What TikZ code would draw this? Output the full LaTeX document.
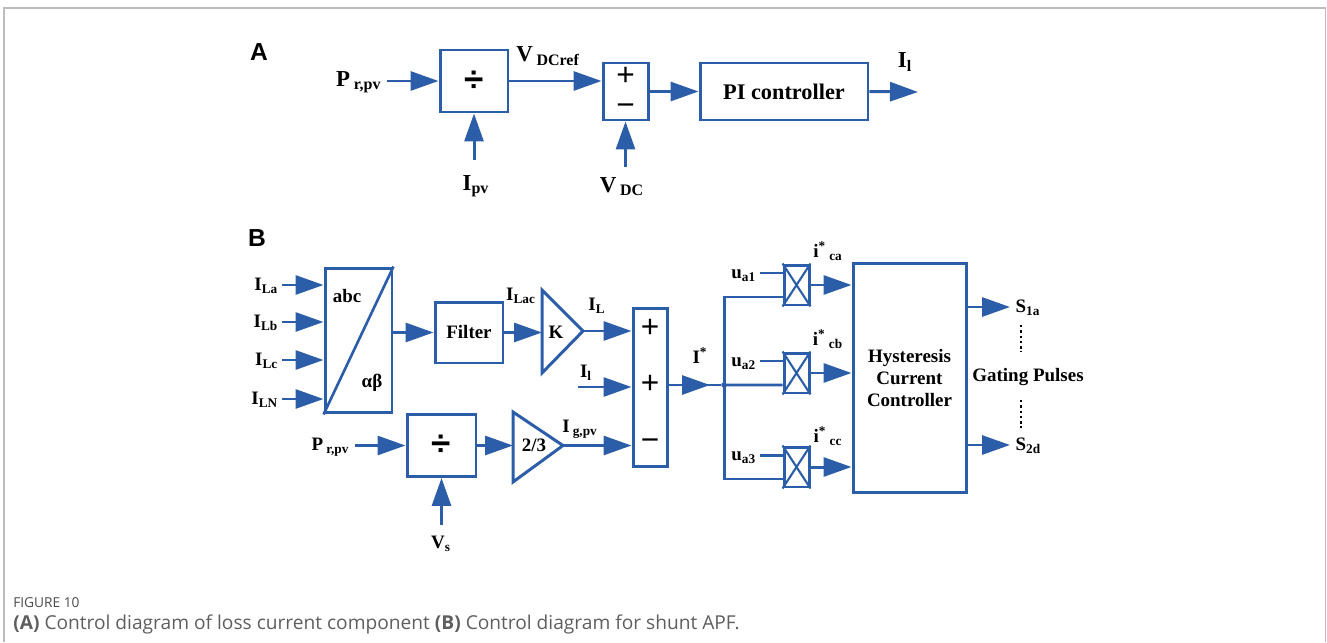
\documentclass[tikz,border=0pt]{standalone}
\usepackage{fontspec}
\setmainfont{Liberation Serif}
\newfontfamily\signfont{Liberation Sans}
\newfontfamily\capfont{Open Sans}
\usetikzlibrary{arrows.meta, positioning}
\definecolor{cLine}{HTML}{2C5DA9}
\definecolor{cFrame}{HTML}{BDBDBD}
\definecolor{cCap}{HTML}{5E5E5E}
\newcommand{\sig}[2]{#1\textsubscript{#2}}

\begin{document}
\begin{tikzpicture}[
    x=0.02cm, y=-0.02cm, font=\bfseries\fontsize{10.8}{12.8}\selectfont,
    ln/.style={draw=cLine, line width=1.7pt},
    arr/.style={ln, -{Triangle[length=0.56cm, width=0.38cm]}},
    blk/.style={draw=cLine, line width=1.7pt, inner sep=0pt},
    xln/.style={draw=cLine, line width=1.2pt},
    labA/.style={inner sep=1pt, text height=1.6ex, text depth=0.3ex, font=\bfseries\fontsize{13}{15}\selectfont},
    labB/.style={inner sep=1pt, text height=1.6ex, text depth=0.3ex},
    sgn/.style={font=\signfont\mdseries\fontsize{18}{18}\selectfont, inner sep=0pt, text height=0.6em, text depth=0pt},
    dvd/.style={font=\signfont\bfseries\fontsize{20}{20}\selectfont},
    hdr/.style={font=\signfont\bfseries\fontsize{14}{16}\selectfont},
    captxt/.style={font=\capfont\mdseries\fontsize{10.9}{12}\selectfont, text=cCap, anchor=west, inner sep=0pt},
]
\useasboundingbox (0,0) rectangle (1327,642);

% ===================== Marco =====================
\draw[cFrame, line width=0.8pt] (4,642) -- (4,8) -- (1325.5,8) -- (1325.5,642);

% ===================== (A) Componente de pérdidas =====================
\node[hdr] (hA) at (259,52) {A};

\node[blk, dvd, minimum width=1.36cm, minimum height=1.24cm] (divA) at (474,81) {÷};
\node[blk, minimum width=0.9cm, minimum height=1.14cm] (sumA) at (625.5,91.5) {};
\node[sgn] (sumAp) at (625.5,80) {+};
\node[sgn] (sumAm) at (625.5,110) {−};
\node[blk, minimum width=3.36cm, minimum height=1.14cm, font=\bfseries\fontsize{12.7}{14}\selectfont] (pi) at (784,91.5) {PI controller};

\coordinate (prA) at (387,81);
\coordinate (ipv) at (474,160);
\coordinate (vdc) at (625.5,167);
\coordinate (ilA) at (918,92);

\node[labA, left=2pt of prA] (prAl) {\sig{P\,}{r,pv}};
\node[labA] (ipvl) at (476,185) {\sig{I}{pv}};
\node[labA] (vrefl) at (548,56) {\sig{V\,}{DCref}};
\node[labA] (vdcl) at (622,187) {\sig{V\,}{DC}};
\node[labA] (ilAl) at (905,62) {\sig{I}{l}};

\draw[arr] (prA) -- (divA.west);
\draw[arr] (ipv) -- (divA.south);
\draw[arr] (divA.east) -- (divA.east -| sumA.west);
\draw[arr] (vdc) -- (sumA.south);
\draw[arr] (sumA.east) -- (pi.west);
\draw[arr] (pi.east) -- (ilA);

% ===================== (B) Filtro activo paralelo =====================
\node[hdr] (hB) at (257,238) {B};

% Transformación abc -> alfa-beta
\node[blk, minimum width=1.34cm, minimum height=2.9cm] (abc) at (358.5,340.5) {};
\draw[xln, line width=1.5pt] (abc.south west) -- (abc.north east);
\node[labB] (abcl) at (347,297) {abc};
\node[labB] (abl) at (372,382) {αβ};

\foreach \n/\yy in {La/285, Lb/322, Lc/360, LN/399} {
    \coordinate (in\n) at (282,\yy);
    \node[labB, left=1pt of in\n] (l\n) {\sig{I}{\n}};
    \draw[arr] (in\n) -- (in\n -| abc.west);
}

% Filtro y ganancia K
\node[blk, minimum width=1.36cm, minimum height=1.22cm] (filt) at (469,332.5) {Filter};
\draw[arr] (filt.west -| abc.east) -- (filt.west);

\coordinate (kIn) at (542,332.5);
\coordinate (kOut) at (583,331);
\draw[ln, line join=miter] (542,290) -- (542,373) -- (kOut) -- cycle;
\node[labB] (gK) at (556,333) {K};
\draw[arr] (filt.east) -- (kIn);
\node[labB] (ilacl) at (521,295) {\sig{I}{Lac}};

% Sumador de corrientes
\node[blk, minimum width=0.68cm, minimum height=3.18cm] (sumB) at (650,387.5) {};
\node[sgn] (sumB1) at (650,332) {+};
\node[sgn] (sumB2) at (650,388) {+};
\node[sgn] (sumB3) at (650,445) {−};

\draw[arr] (kOut) -- (kOut -| sumB.west);
\node[labB] (iLl) at (597,305) {\sig{I}{L}};

\coordinate (ilB) at (578,387);
\draw[arr] (ilB) -- (ilB -| sumB.west);
\node[labB] (ilBl) at (586,372) {\sig{I}{l}};

% Corriente inyectada por el generador FV
\node[blk, dvd, minimum width=1.38cm, minimum height=1.24cm] (divB) at (441.5,445.5) {÷};
\coordinate (prB) at (355,445.5);
\coordinate (vs) at (441.5,525);
\node[labB, left=2pt of prB] (prBl) {\sig{P\,}{r,pv}};
\node[labB] (vsl) at (441,543) {\sig{V}{s}};
\draw[arr] (prB) -- (divB.west);
\draw[arr] (vs) -- (divB.south);

\coordinate (tIn) at (513,445.5);
\coordinate (tOut) at (563,445.5);
\draw[ln, line join=miter] (513,412) -- (513,482) -- (tOut) -- cycle;
\node[labB] (g23) at (534,446) {2/3};
\draw[arr] (divB.east) -- (tIn);
\draw[arr] (tOut) -- (tOut -| sumB.west);
\node[labB] (igl) at (580,427) {\sig{I\,}{g,pv}};

% Referencia I* y reparto por fases
\node[circle, fill=cLine, inner sep=0pt, minimum size=0.11cm] (jn) at (724,385) {};
\draw[ln] (sumB.east |- jn) -- (jn);
\draw[arr] (sumB.east |- jn) -- ([xshift=-0.28cm]jn.center);
\node[labB] (istl) at (700,358) {I\textsuperscript{*}};

\node[blk, minimum width=2.26cm, minimum height=4.6cm, align=center] (hcc) at (909.5,378) {Hysteresis\\Current\\Controller};

\foreach \i/\yy in {1/285, 2/373, 3/467} {
    \node[blk, minimum width=0.5cm, minimum height=0.8cm] (m\i) at (796.5,\yy) {};
    \draw[xln] (m\i.north west) -- (m\i.south east) (m\i.south west) -- (m\i.north east);
    \coordinate (u\i) at (760,\yy-12);
    \node[labB, left=1pt of u\i] (u\i l) {\sig{u}{a\i}};
    \draw[ln] (u\i) -- (u\i -| m\i.west);
    \draw[arr] (m\i.east) -- (m\i.east -| hcc.west);
}

\draw[ln] ([yshift=-0.24cm]m1.west) -| (jn.center) |- ([yshift=-0.24cm]m3.west);
\draw[ln] (jn.center) -- ([yshift=-0.24cm]m2.west);

\node[labB] (ical) at (828,252) {i\textsuperscript{*}\,\textsubscript{ca}};
\node[labB] (icbl) at (828,340) {i\textsuperscript{*}\,\textsubscript{cb}};
\node[labB] (iccl) at (828,437) {i\textsuperscript{*}\,\textsubscript{cc}};

% Pulsos de disparo
\coordinate (s1) at (1010,307);
\coordinate (s2) at (1010,445);
\draw[arr] (hcc.east |- s1) -- (s1);
\draw[arr] (hcc.east |- s2) -- (s2);
\node[labB, right=2pt of s1] (s1l) {\sig{S}{1a}};
\node[labB, right=2pt of s2] (s2l) {\sig{S}{2d}};
\node[labB] (gate) at (1028,376) {Gating Pulses};
\draw[black, line width=1.3pt, dash pattern=on 1.4pt off 1.6pt] (1021,325) -- (1021,352);
\draw[black, line width=1.3pt, dash pattern=on 1.4pt off 1.6pt] (1021,400) -- (1021,428);

% ===================== Pie de figura =====================
\node[captxt, font=\capfont\mdseries\fontsize{7.8}{9}\selectfont, text=cCap!80!black] (fig) at (13,603) {FIGURE 10};
\node[captxt] (capt) at (13,624) {{\bfseries (A)} Control diagram of loss current component {\bfseries (B)} Control diagram for shunt APF.};

\end{tikzpicture}
\end{document}
